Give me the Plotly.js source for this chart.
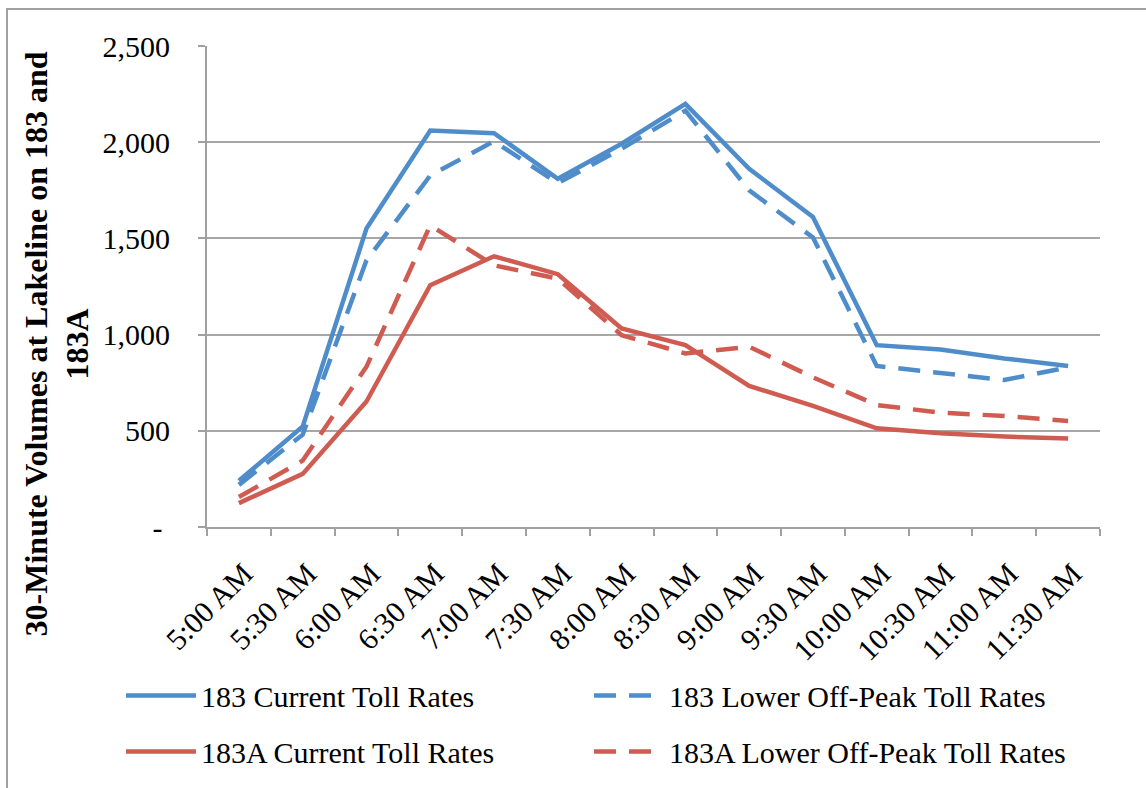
<!DOCTYPE html>
<html>
<head>
<meta charset="utf-8">
<script src="https://cdn.plot.ly/plotly-3.0.1.min.js"></script>
<style>html,body{margin:0;padding:0;background:#fff;}#chart{width:1146px;height:788px;}</style>
</head>
<body>
<div id="chart"></div>
<script>
const categories = ['5:00 AM','5:30 AM','6:00 AM','6:30 AM','7:00 AM','7:30 AM','8:00 AM','8:30 AM','9:00 AM','9:30 AM','10:00 AM','10:30 AM','11:00 AM','11:30 AM'];
const s183Current = [240, 522, 1551, 2061, 2047, 1810, 1992, 2199, 1862, 1611, 945, 923, 876, 837];
const s183Lower   = [219, 480, 1386, 1827, 2005, 1787, 1966, 2164, 1750, 1505, 837, 802, 764, 830];
const s183ACurrent = [124, 276, 652, 1257, 1407, 1314, 1032, 945, 733, 630, 513, 487, 470, 460];
const s183ALower   = [156, 345, 833, 1568, 1360, 1291, 997, 902, 937, 778, 634, 594, 577, 551];
const yTickVals = [0, 500, 1000, 1500, 2000, 2500];
const yTickText = ['-\u00a0', '500', '1,000', '1,500', '2,000', '2,500'];
const yTitleLine1 = '30-Minute Volumes at Lakeline on 183 and';
const yTitleLine2 = '183A';

const BLUE = '#4F8DCA';
const RED = '#CF5B51';
const FONT = 'Liberation Serif, Times New Roman, serif';
const DASH = '22px,13px';

const traces = [
  {x: categories, y: s183Current, name: '183 Current Toll Rates', type: 'scatter', mode: 'lines',
   line: {color: BLUE, width: 4.5}, legend: 'legend', legendgroup: 'a'},
  {x: categories, y: s183Lower, name: '183 Lower Off-Peak Toll Rates', type: 'scatter', mode: 'lines',
   line: {color: BLUE, width: 4.5, dash: DASH}, legend: 'legend2', legendgroup: 'c'},
  {x: categories, y: s183ACurrent, name: '183A Current Toll Rates', type: 'scatter', mode: 'lines',
   line: {color: RED, width: 4.5}, legend: 'legend', legendgroup: 'b'},
  {x: categories, y: s183ALower, name: '183A Lower Off-Peak Toll Rates', type: 'scatter', mode: 'lines',
   line: {color: RED, width: 4.5, dash: DASH}, legend: 'legend2', legendgroup: 'd'}
];

const L = 207, R = 46, T = 46, B = 260;
const W = 1146, H = 788;
const pw = W - L - R, ph = H - T - B;
function px2x(px){ return (px - L) / pw; }
function py2y(py){ return (H - B - py) / ph; }

const legendCommon = {
  orientation: 'v', xanchor: 'left', yanchor: 'middle',
  font: {family: FONT, size: 30, color: '#000'},
  bgcolor: 'rgba(0,0,0,0)', itemwidth: 70, traceorder: 'grouped', tracegroupgap: 14
};

const layout = {
  width: W, height: H,
  margin: {l: L, r: R, t: T, b: B, pad: 0},
  paper_bgcolor: '#fff', plot_bgcolor: '#fff',
  font: {family: FONT, size: 29, color: '#000'},
  showlegend: true,
  legend: Object.assign({}, legendCommon, {x: px2x(121), y: py2y(723.5)}),
  legend2: Object.assign({}, legendCommon, {x: px2x(589), y: py2y(723.5)}),
  xaxis: {
    type: 'category', range: [-0.5, 13.5],
    tickson: 'boundaries', ticks: 'outside', ticklen: 7, tickwidth: 2, tickcolor: '#a0a0a0',
    showline: true, linecolor: '#a0a0a0', linewidth: 2,
    showgrid: false, zeroline: false, tickangle: -45,
    ticklabelstandoff: 15, ticklabelshift: 5,
    tickfont: {family: FONT, size: 30, color: '#000'}
  },
  yaxis: {
    range: [0, 2500], tickvals: yTickVals, ticktext: yTickText,
    ticks: 'outside', ticklen: 7, tickwidth: 2, tickcolor: '#a0a0a0',
    showline: true, linecolor: '#a0a0a0', linewidth: 2,
    showgrid: true, gridcolor: '#a6a6a6', gridwidth: 2, zeroline: false,
    ticklabelstandoff: 22,
    tickfont: {family: FONT, size: 30, color: '#000'}
  },
  annotations: [{
    text: '<b>' + yTitleLine1 + '</b><br><b>' + yTitleLine2 + '</b>',
    textangle: -90, xref: 'paper', yref: 'paper',
    x: px2x(57), y: py2y(345), xanchor: 'center', yanchor: 'middle',
    showarrow: false, font: {family: FONT, size: 32, color: '#000'}
  }],
  shapes: [{
    type: 'rect', xref: 'paper', yref: 'paper',
    x0: px2x(7), x1: px2x(1170), y0: py2y(810), y1: py2y(9),
    line: {color: '#a0a0a0', width: 2}, fillcolor: 'rgba(0,0,0,0)', layer: 'below'
  }]
};

Plotly.newPlot('chart', traces, layout, {displayModeBar: false, responsive: false});
</script>
</body>
</html>
